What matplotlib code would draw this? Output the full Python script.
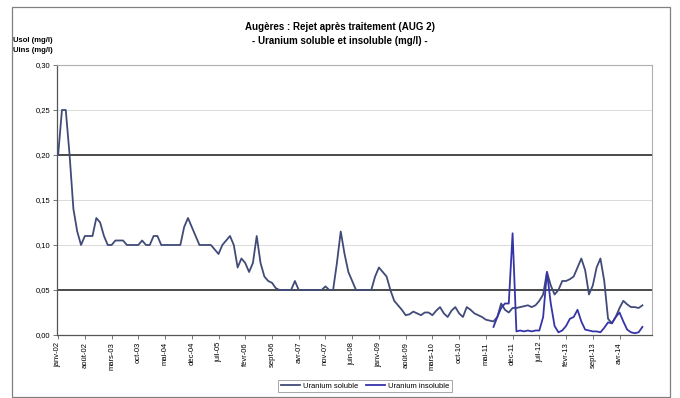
import numpy as np
import matplotlib
matplotlib.use('Agg')
import matplotlib.pyplot as plt
from matplotlib.patches import Rectangle

plt.rcParams['font.family'] = ['Liberation Sans', 'DejaVu Sans']

# valeurs mensuelles (mg/l), à partir de janv-02
uranium_soluble = [
    0.20, 0.25, 0.25, 0.20, 0.14, 0.115, 0.10, 0.11, 0.11, 0.11,
    0.13, 0.125, 0.11, 0.10, 0.10, 0.105, 0.105, 0.105, 0.10, 0.10,
    0.10, 0.10, 0.105, 0.10, 0.10, 0.11, 0.11, 0.10, 0.10, 0.10,
    0.10, 0.10, 0.10, 0.12, 0.13, 0.12, 0.11, 0.10, 0.10, 0.10,
    0.10, 0.095, 0.09, 0.10, 0.105, 0.11, 0.10, 0.075, 0.085, 0.08,
    0.07, 0.08, 0.11, 0.08, 0.065, 0.06, 0.058, 0.052, 0.05, 0.05,
    0.05, 0.05, 0.06, 0.05, 0.05, 0.05, 0.05, 0.05, 0.05, 0.05,
    0.054, 0.05, 0.05, 0.08, 0.115, 0.09, 0.07, 0.06, 0.05, 0.05,
    0.05, 0.05, 0.05, 0.065, 0.075, 0.07, 0.065, 0.05, 0.038, 0.033,
    0.028, 0.022, 0.023, 0.026, 0.024, 0.022, 0.025, 0.025, 0.022, 0.027,
    0.031, 0.024, 0.02, 0.027, 0.031, 0.024, 0.02, 0.031, 0.028, 0.024,
    0.022, 0.02, 0.017, 0.016, 0.015, 0.02, 0.035, 0.028, 0.025, 0.03,
    0.03, 0.031, 0.032, 0.033, 0.031, 0.033, 0.038, 0.045, 0.07, 0.055,
    0.045, 0.05, 0.06, 0.06, 0.062, 0.065, 0.075, 0.085, 0.072, 0.045,
    0.055, 0.075, 0.085, 0.06, 0.018, 0.013, 0.02, 0.03, 0.038, 0.034,
    0.031, 0.031, 0.03, 0.033,
]

# uranium insoluble : mesures disponibles à partir de juil-11
debut_insoluble = 114
uranium_insoluble = [
    0.009, 0.02, 0.03, 0.035, 0.035, 0.113, 0.004, 0.005, 0.004, 0.005,
    0.004, 0.005, 0.005, 0.02, 0.07, 0.035, 0.01, 0.003, 0.005, 0.01,
    0.018, 0.02, 0.028, 0.015, 0.006, 0.005, 0.004, 0.004, 0.003, 0.008,
    0.014, 0.013, 0.02, 0.025, 0.015, 0.006, 0.003, 0.002, 0.003, 0.009,
]

noms_mois = ['janv', 'févr', 'mars', 'avr', 'mai', 'juin',
             'juil', 'août', 'sept', 'oct', 'nov', 'déc']
mois = [f"{noms_mois[i % 12]}-{2 + i // 12:02d}" for i in range(len(uranium_soluble))]
pas_etiquettes = 7

y_ticks = [0.00, 0.05, 0.10, 0.15, 0.20, 0.25, 0.30]
y_labels = ['0,00', '0,05', '0,10', '0,15', '0,20', '0,25', '0,30']
seuils = [0.05, 0.20]

x_sol = np.arange(len(uranium_soluble))
x_ins = np.arange(debut_insoluble, debut_insoluble + len(uranium_insoluble))

fig = plt.figure(figsize=(6.8, 3.98), dpi=100)
fig.patch.set_facecolor('white')
ax = fig.add_axes([0.0838, 0.1583, 0.875, 0.6784])

# cadre du graphique
fig.patches.append(Rectangle((12 / 680, 1 / 398), 658 / 680, 390 / 398,
                             transform=fig.transFigure, fill=False,
                             edgecolor='#808080', linewidth=0.9))

for y in y_ticks[1:]:
    if y not in seuils:
        ax.axhline(y, color='#d4d4d4', linewidth=0.6, zorder=1)
for y in seuils:
    ax.axhline(y, color='#2b2b2b', linewidth=1.2, zorder=2)

ax.plot(x_sol, uranium_soluble, color='#414b78', linewidth=1.3,
        label='Uranium soluble', zorder=3)
ax.plot(x_ins, uranium_insoluble, color='#3535a8', linewidth=1.3,
        label='Uranium insoluble', zorder=4)

ax.set_xlim(-0.3, 155.5)
ax.set_ylim(0, 0.30)
ax.set_yticks(y_ticks)
ax.set_yticklabels(y_labels, fontsize=5.5)
pos = x_sol[::pas_etiquettes]
ax.set_xticks(pos)
ax.set_xticklabels([mois[i] for i in pos], rotation=90, fontsize=5.5)
ax.tick_params(axis='both', length=3, width=0.6, color='#606060', pad=2)

for side in ['left', 'bottom']:
    ax.spines[side].set_color('#555555')
    ax.spines[side].set_linewidth(0.9)
for side in ['top', 'right']:
    ax.spines[side].set_color('#b0b0b0')
    ax.spines[side].set_linewidth(0.8)

fig.text(0.5, 1 - 27 / 398, 'Augères : Rejet après traitement (AUG 2)',
         ha='center', va='center', fontsize=7, fontweight='bold')
fig.text(0.5, 1 - 41 / 398, '- Uranium soluble et insoluble (mg/l) -',
         ha='center', va='center', fontsize=7, fontweight='bold')
fig.text(13 / 680, 1 - 40 / 398, 'Usol (mg/l)', ha='left', va='center',
         fontsize=5.5, fontweight='bold')
fig.text(13 / 680, 1 - 50 / 398, 'Uins (mg/l)', ha='left', va='center',
         fontsize=5.5, fontweight='bold')

leg = fig.legend(loc='center', bbox_to_anchor=(365 / 680, 1 - 386 / 398),
                 ncol=2, fontsize=5.5, frameon=True, fancybox=False,
                 borderpad=0.3, handlelength=2.5, columnspacing=1.0,
                 handletextpad=0.4)
leg.get_frame().set_edgecolor('#909090')
leg.get_frame().set_linewidth(0.7)

fig.savefig('out.png', dpi=100)
